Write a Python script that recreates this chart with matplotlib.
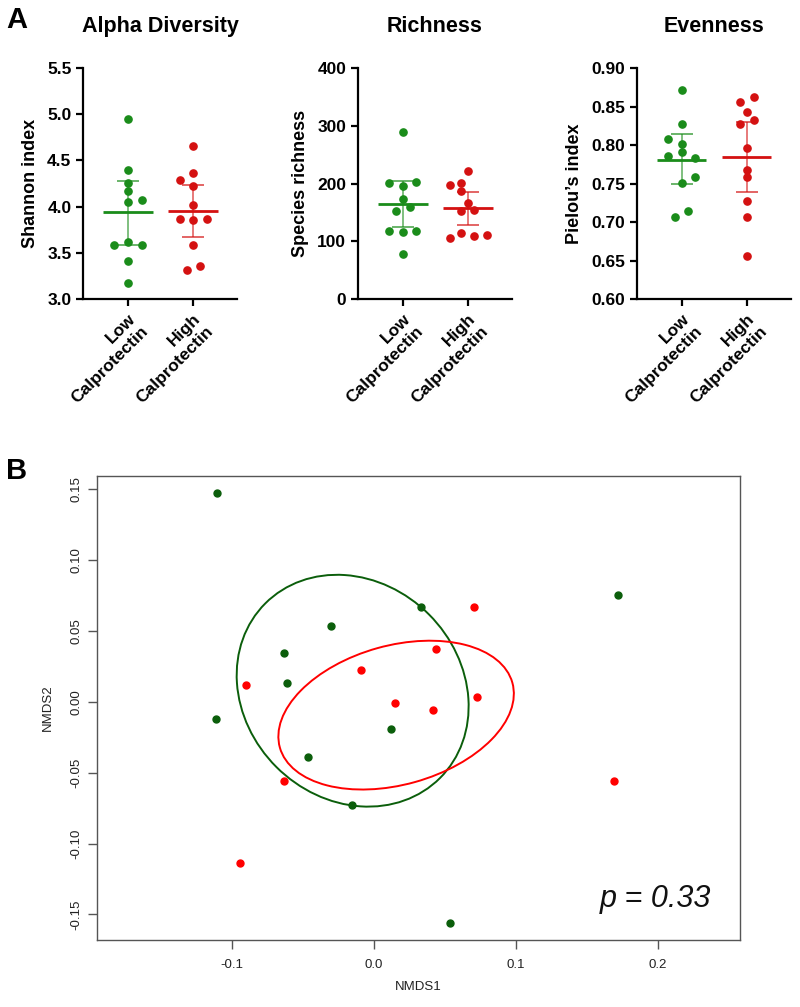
import numpy as np
import matplotlib.pyplot as plt
from matplotlib.patches import Ellipse

plt.rcParams['font.family'] = ['Liberation Sans', 'DejaVu Sans']

groups = ["Low\nCalprotectin", "High\nCalprotectin"]
col_low = "#1a8c1a"
col_high = "#d41111"

# Alpha diversity (Shannon)
shannon_low = [4.95, 4.40, 4.26, 4.17, 4.05, 4.07, 3.59, 3.62, 3.59, 3.41, 3.17]
shannon_low_dx = [0, 0, 0, 0, 0, 0.21, -0.21, 0, 0.21, 0, 0]
shannon_high = [4.66, 4.36, 4.29, 4.22, 4.02, 3.87, 3.86, 3.87, 3.58, 3.32, 3.36]
shannon_high_dx = [0, 0, -0.2, 0, 0, -0.2, 0, 0.22, 0, -0.1, 0.11]
shannon_mean = [3.94, 3.95]
shannon_lo = [3.59, 3.67]
shannon_hi = [4.28, 4.23]

# Richness
rich_low = [290, 201, 202, 195, 174, 153, 160, 118, 116, 118, 78]
rich_low_dx = [0, -0.21, 0.21, 0, 0, -0.1, 0.11, -0.21, 0, 0.21, 0]
rich_high = [222, 198, 201, 188, 167, 153, 155, 106, 115, 109, 111]
rich_high_dx = [0, -0.28, -0.1, -0.1, 0, -0.1, 0.1, -0.28, -0.1, 0.1, 0.3]
rich_mean = [165, 157]
rich_lo = [125, 129]
rich_hi = [204, 185]

# Evenness (Pielou)
even_low = [0.872, 0.828, 0.808, 0.801, 0.791, 0.786, 0.783, 0.751, 0.758, 0.706, 0.714]
even_low_dx = [0, 0, -0.21, 0, 0, -0.21, 0.21, 0, 0.21, -0.1, 0.1]
even_high = [0.856, 0.862, 0.843, 0.828, 0.832, 0.796, 0.768, 0.758, 0.727, 0.706, 0.656]
even_high_dx = [-0.1, 0.11, 0, -0.1, 0.11, 0, 0, 0, 0, 0, 0]
even_mean = [0.781, 0.785]
even_lo = [0.749, 0.739]
even_hi = [0.814, 0.830]

# NMDS ordination
nmds_low_x = [-0.110, 0.033, -0.030, -0.063, -0.061, -0.111, 0.012, -0.046, -0.015, 0.172, 0.054]
nmds_low_y = [0.147, 0.067, 0.053, 0.034, 0.013, -0.012, -0.019, -0.039, -0.073, 0.075, -0.156]
nmds_high_x = [0.071, 0.044, -0.009, -0.090, 0.015, 0.042, 0.073, -0.063, -0.094, 0.169]
nmds_high_y = [0.067, 0.037, 0.022, 0.012, -0.001, -0.006, 0.003, -0.056, -0.114, -0.056]
# ellipses: center x, center y, width, height, angle
ell_low = (-0.0148, 0.0077, 0.174, 0.152, -45)
ell_high = (0.0158, -0.0095, 0.170, 0.098, 15.6)

fig = plt.figure(figsize=(8, 10.07), dpi=100)

panels = [
    (0.104, "Alpha Diversity", "Shannon index", shannon_low, shannon_low_dx, shannon_high, shannon_high_dx,
     shannon_mean, shannon_lo, shannon_hi, (3.0, 5.5), [3.0, 3.5, 4.0, 4.5, 5.0, 5.5], "{:.1f}"),
    (0.4475, "Richness", "Species richness", rich_low, rich_low_dx, rich_high, rich_high_dx,
     rich_mean, rich_lo, rich_hi, (0, 400), [0, 100, 200, 300, 400], "{:d}"),
    (0.796, "Evenness", "Pielou\u2019s index", even_low, even_low_dx, even_high, even_high_dx,
     even_mean, even_lo, even_hi, (0.6, 0.9), [0.60, 0.65, 0.70, 0.75, 0.80, 0.85, 0.90], "{:.2f}"),
]

for left, title, ylab, lo_v, lo_dx, hi_v, hi_dx, mean, elo, ehi, ylim, yt, fmt in panels:
    ax = fig.add_axes([left, 0.703, 0.1925, 0.2294])
    for i, (vals, dx, col) in enumerate([(lo_v, lo_dx, col_low), (hi_v, hi_dx, col_high)]):
        ax.plot(np.array(dx) + i, vals, "o", color=col, markersize=5.2, clip_on=False, zorder=3)
        ax.vlines(i, elo[i], ehi[i], color=col, alpha=0.6, lw=1.3, zorder=2)
        ax.hlines([elo[i], ehi[i]], i - 0.17, i + 0.17, color=col, alpha=0.7, lw=1.3, zorder=2)
        ax.hlines(mean[i], i - 0.38, i + 0.38, color=col, lw=2, zorder=4)
    ax.set_xlim(-0.69, 1.68)
    ax.set_ylim(*ylim)
    ax.set_yticks(yt)
    ax.set_yticklabels([fmt.format(v) for v in yt], fontsize=12.5, fontweight="bold")
    ax.set_xticks([0, 1])
    ax.set_xticklabels(groups, rotation=45, ha="right", rotation_mode="anchor",
                       multialignment="right", fontsize=12.5, fontweight="bold")
    ax.spines[["top", "right"]].set_visible(False)
    ax.spines[["left", "bottom"]].set_linewidth(1.6)
    ax.tick_params(width=1.6, length=5)
    ax.set_ylabel(ylab, fontsize=13, fontweight="bold", labelpad=6)
    ax.set_title(title, fontsize=15.5, fontweight="bold", pad=26)

fig.text(0.008, 0.98, "A", fontsize=21, fontweight="bold", va="center")
fig.text(0.008, 0.532, "B", fontsize=21, fontweight="bold", va="center")

# NMDS panel
ax = fig.add_axes([0.121, 0.0665, 0.804, 0.4608])
ax.plot(nmds_low_x, nmds_low_y, "o", color="#0b5e0b", markersize=5)
ax.plot(nmds_high_x, nmds_high_y, "o", color="#ff0000", markersize=5)
for (cx, cy, w, h, ang), col in [(ell_low, "#0b5e0b"), (ell_high, "#ff0000")]:
    ax.add_patch(Ellipse((cx, cy), w, h, angle=ang, fill=False, edgecolor=col, lw=1.4))
ax.set_xlim(-0.195, 0.258)
ax.set_ylim(-0.168, 0.159)
ax.set_xticks([-0.1, 0.0, 0.1, 0.2])
ax.set_xticklabels(["-0.1", "0.0", "0.1", "0.2"])
ax.set_yticks([-0.15, -0.10, -0.05, 0.0, 0.05, 0.10, 0.15])
ax.set_yticklabels(["-0.15", "-0.10", "-0.05", "0.00", "0.05", "0.10", "0.15"], rotation=90, va="center")
ax.tick_params(labelsize=9.5, colors="#555555", labelcolor="#222222", length=6.5, width=1)
ax.tick_params(axis="x", pad=7)
ax.tick_params(axis="y", pad=4)
for s in ax.spines.values():
    s.set_color("#555555")
    s.set_linewidth(1)
ax.set_xlabel("NMDS1", fontsize=9.5, color="#222222", labelpad=7)
ax.set_ylabel("NMDS2", fontsize=9.5, color="#222222", labelpad=12)
ax.text(0.2375, -0.139, "p = 0.33", fontsize=22, style="italic", ha="right", va="center", color="#111111")

fig.savefig("out.png", dpi=100)
